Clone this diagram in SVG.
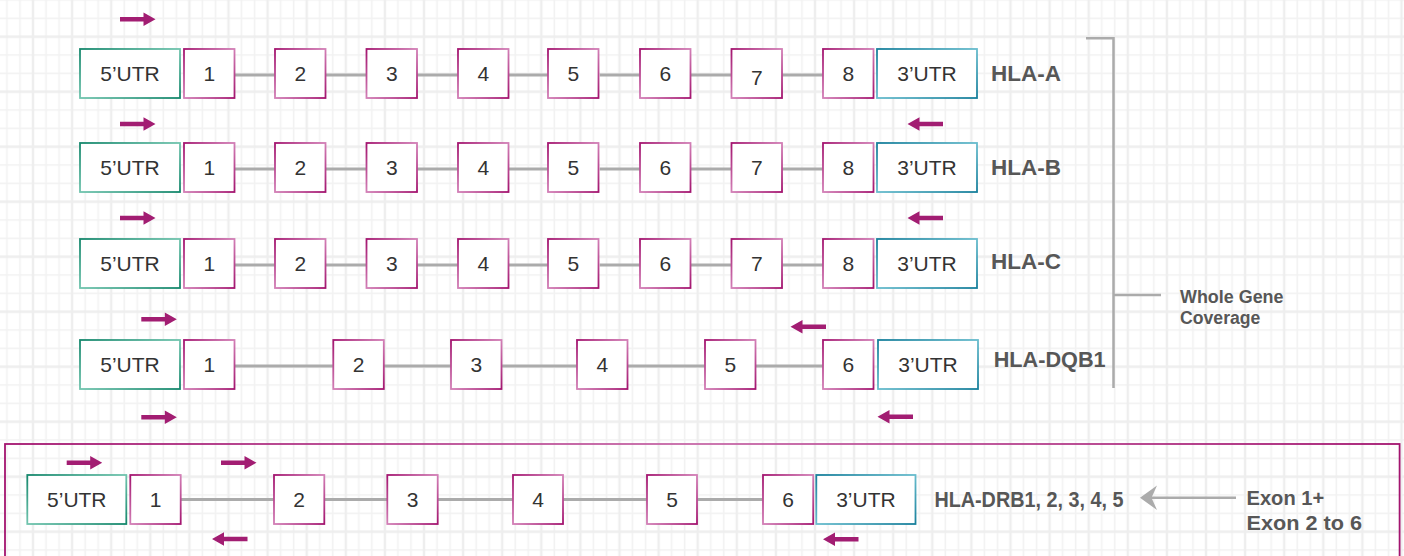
<svg xmlns="http://www.w3.org/2000/svg" width="1404" height="556" viewBox="0 0 1404 556">
  <defs>
    <!-- background grid: minor lines every 13.03 x 18.33, heavier every third -->
    <pattern id="grid" patternUnits="userSpaceOnUse" x="1186.45" y="9.2" width="39.1" height="55">
      <rect width="39.1" height="55" fill="#ffffff"/>
      <path d="M6.5 0V55M32.6 0V55M0 9.17H39.1M0 45.83H39.1" stroke="#f2f2f2" stroke-width="1.5" fill="none"/>
      <path d="M19.55 0V55M0 27.5H39.1" stroke="#eeeeee" stroke-width="2.4" fill="none"/>
    </pattern>
    <linearGradient id="gExon" x1="0" y1="0" x2="1" y2="1">
      <stop offset="0" stop-color="#a3146f"/>
      <stop offset="0.5" stop-color="#d27fb6"/>
      <stop offset="1" stop-color="#a3146f"/>
    </linearGradient>
    <linearGradient id="g5" x1="0" y1="0" x2="1" y2="1">
      <stop offset="0" stop-color="#15876c"/>
      <stop offset="0.5" stop-color="#71c4ae"/>
      <stop offset="1" stop-color="#15876c"/>
    </linearGradient>
    <linearGradient id="g3" x1="0" y1="0" x2="1" y2="1">
      <stop offset="0" stop-color="#177f9b"/>
      <stop offset="0.5" stop-color="#68bccd"/>
      <stop offset="1" stop-color="#177f9b"/>
    </linearGradient>
    <linearGradient id="gFrame" x1="0" y1="0" x2="1" y2="0">
      <stop offset="0" stop-color="#a3146f"/>
      <stop offset="0.5" stop-color="#c76aa8"/>
      <stop offset="1" stop-color="#a3146f"/>
    </linearGradient>
    <!-- primer arrow, origin at the tail, pointing right -->
    <path id="primer" d="M0 -2.3H23.5V-6.7L35.5 0L23.5 6.7V2.3H0Z"/>
    <style>
      .exon { fill: #ffffff; stroke: url(#gExon); stroke-width: 1.8; }
      .utr5 { fill: #ffffff; stroke: url(#g5); stroke-width: 1.8; }
      .utr3 { fill: #ffffff; stroke: url(#g3); stroke-width: 1.8; }
      .num { font-family: "Liberation Sans", Arial, sans-serif; font-size: 21px; fill: #333333; text-anchor: middle; }
      .gene { font-family: "Liberation Sans", Arial, sans-serif; font-weight: bold; font-size: 22px; fill: #575757; }
      .note { font-family: "Liberation Sans", Arial, sans-serif; font-weight: bold; fill: #575757; }
      .intron { stroke: #ababab; stroke-width: 3; fill: none; }
      .bracket { stroke: #ababab; stroke-width: 2.5; fill: none; }
      .primer { fill: #a21d72; }
    </style>
  </defs>

  <rect width="1404" height="556" fill="url(#grid)"/>

  <!-- introns, bracket and pointer -->
  <g id="connectors">
    <path class="intron" d="M234.7 75H275M325.7 75H366.7M416.7 75H458M508 75H548M599.7 75H640M690.3 75H731.7M782 75H823"/>
    <path class="intron" d="M234.7 169H275M325.7 169H366.7M416.7 169H458M508 169H548M599.7 169H640M690.3 169H731.7M782 169H823"/>
    <path class="intron" d="M234.7 265H275M325.7 265H366.7M416.7 265H458M508 265H548M599.7 265H640M690.3 265H731.7M782 265H823"/>
    <path class="intron" d="M234.7 366H333.3M384 366H451M502 366H577M627 366H705M755 366H823"/>
    <path class="intron" d="M180.7 499.5H274M324.3 499.5H387.3M437.7 499.5H513M563 499.5H647M697 499.5H763"/>
    <path class="bracket" d="M1086 38.3H1113.5V388M1113.5 295H1161"/>
    <path class="bracket" d="M1236 497.7H1150"/>
    <path d="M1140 497.7L1157 485.5L1151.5 497.7L1157 510Z" fill="#ababab"/>
  </g>

  <g id="hla-a">
    <use href="#primer" class="primer" x="120" y="19.3"/>
    <rect class="utr5" x="80" y="49" width="100" height="49"/><text class="num" x="130" y="81">5’UTR</text>
    <rect class="exon" x="184" y="49" width="50.5" height="49"/><text class="num" x="209.3" y="81">1</text>
    <rect class="exon" x="275" y="49" width="50.5" height="49"/><text class="num" x="300.3" y="81">2</text>
    <rect class="exon" x="366.5" y="49" width="50.5" height="49"/><text class="num" x="391.8" y="81">3</text>
    <rect class="exon" x="458" y="49" width="50.5" height="49"/><text class="num" x="483.3" y="81">4</text>
    <rect class="exon" x="548" y="49" width="50.5" height="49"/><text class="num" x="573.3" y="81">5</text>
    <rect class="exon" x="640" y="49" width="50.5" height="49"/><text class="num" x="665.3" y="81">6</text>
    <rect class="exon" x="731.5" y="49" width="50.5" height="49"/><text class="num" x="756.8" y="85">7</text>
    <rect class="exon" x="823" y="49" width="50.5" height="49"/><text class="num" x="848.3" y="81">8</text>
    <rect class="utr3" x="877" y="49" width="100" height="49"/><text class="num" x="927" y="81">3’UTR</text>
    <text class="gene" x="991" y="81" textLength="70" lengthAdjust="spacingAndGlyphs">HLA-A</text>
  </g>

  <g id="hla-b">
    <use href="#primer" class="primer" x="120" y="124"/>
    <use href="#primer" class="primer" transform="translate(943 124) scale(-1 1)"/>
    <rect class="utr5" x="80" y="143" width="100" height="49"/><text class="num" x="130" y="175">5’UTR</text>
    <rect class="exon" x="184" y="143" width="50.5" height="49"/><text class="num" x="209.3" y="175">1</text>
    <rect class="exon" x="275" y="143" width="50.5" height="49"/><text class="num" x="300.3" y="175">2</text>
    <rect class="exon" x="366.5" y="143" width="50.5" height="49"/><text class="num" x="391.8" y="175">3</text>
    <rect class="exon" x="458" y="143" width="50.5" height="49"/><text class="num" x="483.3" y="175">4</text>
    <rect class="exon" x="548" y="143" width="50.5" height="49"/><text class="num" x="573.3" y="175">5</text>
    <rect class="exon" x="640" y="143" width="50.5" height="49"/><text class="num" x="665.3" y="175">6</text>
    <rect class="exon" x="731.5" y="143" width="50.5" height="49"/><text class="num" x="756.8" y="175">7</text>
    <rect class="exon" x="823" y="143" width="50.5" height="49"/><text class="num" x="848.3" y="175">8</text>
    <rect class="utr3" x="877" y="143" width="100" height="49"/><text class="num" x="927" y="175">3’UTR</text>
    <text class="gene" x="991" y="175" textLength="70" lengthAdjust="spacingAndGlyphs">HLA-B</text>
  </g>

  <g id="hla-c">
    <use href="#primer" class="primer" x="120" y="218"/>
    <use href="#primer" class="primer" transform="translate(943 218) scale(-1 1)"/>
    <rect class="utr5" x="80" y="239" width="100" height="49"/><text class="num" x="130" y="271">5’UTR</text>
    <rect class="exon" x="184" y="239" width="50.5" height="49"/><text class="num" x="209.3" y="271">1</text>
    <rect class="exon" x="275" y="239" width="50.5" height="49"/><text class="num" x="300.3" y="271">2</text>
    <rect class="exon" x="366.5" y="239" width="50.5" height="49"/><text class="num" x="391.8" y="271">3</text>
    <rect class="exon" x="458" y="239" width="50.5" height="49"/><text class="num" x="483.3" y="271">4</text>
    <rect class="exon" x="548" y="239" width="50.5" height="49"/><text class="num" x="573.3" y="271">5</text>
    <rect class="exon" x="640" y="239" width="50.5" height="49"/><text class="num" x="665.3" y="271">6</text>
    <rect class="exon" x="731.5" y="239" width="50.5" height="49"/><text class="num" x="756.8" y="271">7</text>
    <rect class="exon" x="823" y="239" width="50.5" height="49"/><text class="num" x="848.3" y="271">8</text>
    <rect class="utr3" x="877" y="239" width="100" height="49"/><text class="num" x="927" y="271">3’UTR</text>
    <text class="gene" x="991" y="269" textLength="70" lengthAdjust="spacingAndGlyphs">HLA-C</text>
  </g>

  <g id="hla-dqb1">
    <use href="#primer" class="primer" x="141.3" y="319.3"/>
    <use href="#primer" class="primer" transform="translate(826 326.7) scale(-1 1)"/>
    <use href="#primer" class="primer" x="141.3" y="417.3"/>
    <use href="#primer" class="primer" transform="translate(913 416.7) scale(-1 1)"/>
    <rect class="utr5" x="80" y="340" width="100" height="49"/><text class="num" x="130" y="372">5’UTR</text>
    <rect class="exon" x="184" y="340" width="50.5" height="49"/><text class="num" x="209.3" y="372">1</text>
    <rect class="exon" x="333.3" y="340" width="50.5" height="49"/><text class="num" x="358.6" y="372">2</text>
    <rect class="exon" x="451" y="340" width="50.5" height="49"/><text class="num" x="476.3" y="372">3</text>
    <rect class="exon" x="577" y="340" width="50.5" height="49"/><text class="num" x="602.3" y="372">4</text>
    <rect class="exon" x="705" y="340" width="50.5" height="49"/><text class="num" x="730.3" y="372">5</text>
    <rect class="exon" x="823" y="340" width="50.5" height="49"/><text class="num" x="848.3" y="372">6</text>
    <rect class="utr3" x="878" y="340" width="100" height="49"/><text class="num" x="928" y="372">3’UTR</text>
    <text class="gene" x="993.7" y="367.3" textLength="112" lengthAdjust="spacingAndGlyphs">HLA-DQB1</text>
  </g>

  <g id="coverage">
    <text class="note" font-size="18" x="1180" y="303.3" textLength="103.5" lengthAdjust="spacingAndGlyphs">Whole Gene</text>
    <text class="note" font-size="18" x="1180" y="323.5" textLength="80.4" lengthAdjust="spacingAndGlyphs">Coverage</text>
  </g>

  <g id="hla-drb">
    <rect x="5" y="444" width="1394.6" height="130" fill="none" stroke="url(#gFrame)" stroke-width="1.8"/>
    <use href="#primer" class="primer" x="66.7" y="462.7"/>
    <use href="#primer" class="primer" x="221" y="462.7"/>
    <use href="#primer" class="primer" transform="translate(247.5 539) scale(-1 1)"/>
    <use href="#primer" class="primer" transform="translate(858.5 539.3) scale(-1 1)"/>
    <rect class="utr5" x="27.3" y="475" width="99" height="49"/><text class="num" x="76.8" y="507">5’UTR</text>
    <rect class="exon" x="130.3" y="475" width="50.4" height="49"/><text class="num" x="155.5" y="507">1</text>
    <rect class="exon" x="274" y="475" width="50.3" height="49"/><text class="num" x="299.2" y="507">2</text>
    <rect class="exon" x="387.3" y="475" width="50.4" height="49"/><text class="num" x="412.5" y="507">3</text>
    <rect class="exon" x="513" y="475" width="50" height="49"/><text class="num" x="538" y="507">4</text>
    <rect class="exon" x="647" y="475" width="50" height="49"/><text class="num" x="672" y="507">5</text>
    <rect class="exon" x="763" y="475" width="50.2" height="49"/><text class="num" x="788.1" y="507">6</text>
    <rect class="utr3" x="816.3" y="475" width="99.2" height="49"/><text class="num" x="865.9" y="507">3’UTR</text>
    <text class="gene" font-size="20" x="934.4" y="506.7" textLength="189" lengthAdjust="spacingAndGlyphs">HLA-DRB1, 2, 3, 4, 5</text>
  </g>

  <g id="exon-note">
    <text class="note" font-size="21" x="1246.5" y="505.3" textLength="77.7" lengthAdjust="spacingAndGlyphs">Exon 1+</text>
    <text class="note" font-size="21" x="1246.5" y="530" textLength="115.5" lengthAdjust="spacingAndGlyphs">Exon 2 to 6</text>
  </g>
</svg>
